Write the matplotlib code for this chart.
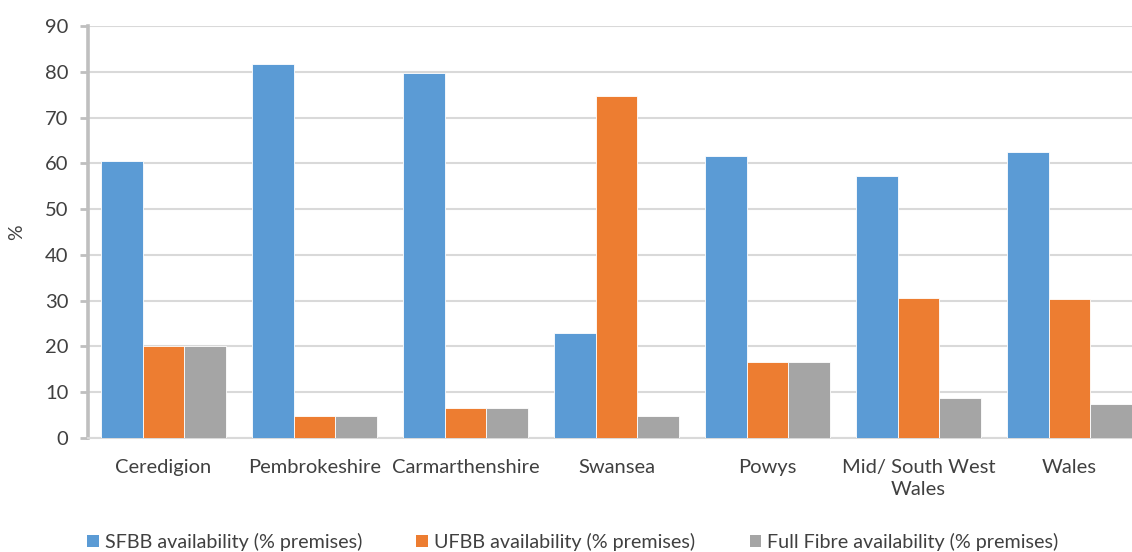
import matplotlib
matplotlib.use("Agg")
import matplotlib.pyplot as plt
import numpy as np
from matplotlib.patches import Patch

categories = ["Ceredigion", "Pembrokeshire", "Carmarthenshire", "Swansea",
              "Powys", "Mid/ South West\nWales", "Wales"]
sfbb = [60.5, 81.8, 79.8, 23.0, 61.7, 57.3, 62.5]
ufbb = [20.0, 4.9, 6.5, 74.8, 16.6, 30.5, 30.4]
full_fibre = [20.0, 4.9, 6.5, 4.8, 16.6, 8.7, 7.4]
series_names = ["SFBB availability (% premises)",
                "UFBB availability (% premises)",
                "Full Fibre availability (% premises)"]
colors = ["#5B9BD5", "#ED7D31", "#A5A5A5"]
yticks = list(range(0, 91, 10))

plt.rcParams["font.family"] = ["Lato", "DejaVu Sans"]

fig = plt.figure(figsize=(11.32, 5.52), dpi=100)
ax = fig.add_axes([88 / 1132, 114 / 552, 1057 / 1132, 412 / 552])

x = np.arange(len(categories))
w = 0.278
for i, (vals, c) in enumerate(zip([sfbb, ufbb, full_fibre], colors)):
    ax.bar(x + (i - 1) * w, vals, width=w, color=c, edgecolor="white",
           linewidth=0.6, zorder=3)

ax.set_xlim(-0.5, len(categories) - 0.5)
ax.set_ylim(0, 90)
ax.set_yticks(yticks)
ax.set_xticks(x)
ax.set_xticklabels(categories, fontsize=14.5, color="#404040", linespacing=1.35)
ax.tick_params(axis="x", length=0, pad=15)
ax.tick_params(axis="y", labelsize=14.5, labelcolor="#404040", length=6,
               width=2, color="#BFBFBF", direction="out", pad=8)
ax.yaxis.grid(True, color="#D9D9D9", linewidth=1.5, zorder=0)
ax.set_axisbelow(True)

for s in ["top", "right"]:
    ax.spines[s].set_visible(False)
ax.spines["left"].set_color("#BFBFBF")
ax.spines["left"].set_linewidth(2.6)
ax.spines["bottom"].set_color("#D9D9D9")
ax.spines["bottom"].set_linewidth(1.5)

ax.set_ylabel("%", fontsize=14, color="#404040", labelpad=14)

handles = [Patch(facecolor=c, edgecolor="none") for c in colors]
fig.legend(handles, series_names, loc="center", bbox_to_anchor=(0.506, 10 / 552),
           ncol=3, frameon=False, fontsize=14.2, labelcolor="#404040",
           handlelength=0.6, handleheight=0.6, handletextpad=0.3,
           columnspacing=2.75)

fig.savefig("out.png", dpi=100)
